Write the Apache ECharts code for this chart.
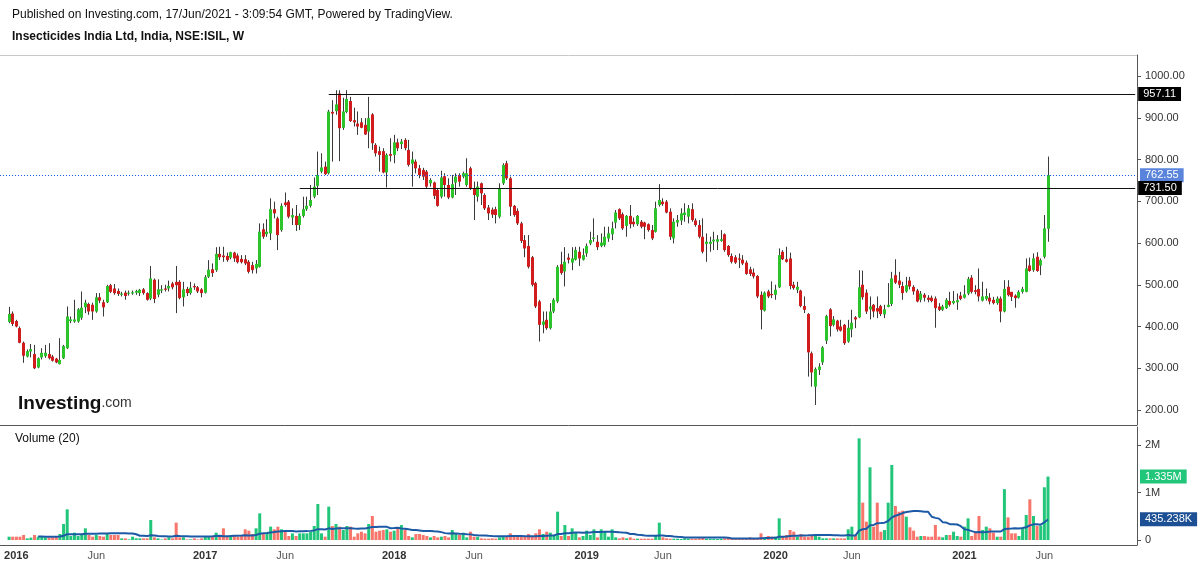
<!DOCTYPE html>
<html><head><meta charset="utf-8">
<script src="https://cdn.jsdelivr.net/npm/echarts@6/dist/echarts.min.js"></script>
<style>html,body{margin:0;padding:0;background:#fff}#c{width:1200px;height:569px}</style>
</head><body><div id="c"></div>
<script>
// Weekly bars, first bar = week of 2015-12-21, last bar = week of 2021-06-14
const firstWeek = '2015-12-21';
const leadWeeks = 2;     // empty weeks before first bar
const futureWeeks = 24;  // empty weeks after last bar

const open = [
411,431,413,396,361,328,340,334,302,326,329,334,328,323,310,324,348,413,412,412,
421,446,454,452,436,470,458,458,499,491,485,476,481,479,479,481,480,489,480,467,
512,476,486,491,491,503,507,507,470,490,480,497,494,489,481,519,537,535,574,570,
569,565,577,570,562,561,555,547,539,543,633,621,623,681,659,631,697,699,661,665,
643,665,681,689,711,737,771,783,767,914,916,958,876,914,940,894,886,889,883,867,
908,835,820,820,769,813,811,841,837,847,823,790,795,779,775,771,743,745,727,711,
760,739,709,745,763,759,739,779,731,711,743,715,685,680,681,663,743,791,755,689,
677,647,607,593,566,504,460,404,416,396,436,460,549,532,565,553,560,579,560,575,
599,610,603,593,595,611,621,649,681,669,641,665,651,645,651,649,645,631,627,691,
699,699,675,611,649,654,667,663,681,654,643,615,598,598,604,603,605,621,593,569,
566,563,560,553,537,529,521,476,438,484,478,476,494,579,561,563,500,488,486,449,
430,336,256,296,314,366,441,404,414,400,404,364,393,422,422,500,481,441,452,444,
449,429,447,454,523,510,497,484,510,495,486,464,476,469,469,467,448,440,444,461,
456,458,474,469,479,517,487,490,462,466,469,464,456,467,436,495,483,474,469,483,
483,546,535,567,546,567,634];
const close = [
430,406,400,361,330,341,346,300,324,337,337,324,318,314,320,353,424,417,417,441,
445,457,436,436,470,462,446,497,483,480,478,479,473,481,482,485,488,480,464,515,
466,489,489,488,497,494,499,468,489,480,493,494,484,480,518,536,528,574,566,566,
559,578,563,554,554,551,531,535,550,627,615,627,681,671,619,689,691,663,667,643,
665,681,689,703,735,763,781,765,915,910,932,875,915,945,892,889,879,876,860,899,
839,815,811,769,811,809,841,827,843,827,787,800,779,763,759,735,751,713,689,757,
739,709,741,759,747,767,767,731,715,735,719,683,671,668,667,731,787,755,687,667,
647,605,587,543,500,448,404,412,396,436,464,543,528,555,560,563,583,563,571,593,
607,613,590,601,615,623,635,673,659,635,665,645,645,665,639,639,631,611,683,703,
693,673,615,651,655,671,673,683,655,643,615,579,603,603,608,609,609,583,571,555,
553,560,551,526,526,520,472,440,481,472,475,488,571,561,555,497,492,495,449,440,
338,290,298,304,350,425,401,417,393,390,360,397,409,417,494,470,436,448,436,436,
430,441,452,515,505,500,480,499,496,484,460,479,469,464,461,444,440,448,464,452,
461,463,466,477,514,483,483,472,472,473,460,456,467,436,490,475,471,468,483,490,
539,533,563,533,559,635,762.55];
const low = [
408,401,398,360,313,326,326,298,300,321,325,321,316,312,309,322,346,408,409,409,
416,432,428,416,433,456,424,456,480,476,473,472,464,474,476,476,473,476,462,463,
456,470,480,484,484,489,432,465,448,473,476,488,480,470,479,516,519,531,559,555,
555,561,555,551,551,547,527,527,527,541,610,615,607,659,583,627,687,659,643,629,
631,661,677,685,707,715,767,763,764,795,907,796,871,911,890,879,859,875,859,827,
823,807,771,767,733,795,791,820,825,822,783,735,767,755,751,731,735,705,687,707,
711,705,707,715,735,755,735,727,655,699,691,679,655,660,647,659,739,751,665,663,
643,600,566,539,496,444,364,384,392,393,432,456,524,496,551,535,558,545,558,567,
595,603,583,590,591,603,607,635,655,631,615,635,639,641,635,609,627,607,625,687,
689,671,607,599,639,643,651,647,651,639,611,575,555,579,583,583,603,579,567,551,
550,540,547,524,521,515,468,393,436,468,468,464,492,559,553,489,488,480,446,432,
280,256,212,284,308,358,376,400,388,388,356,361,374,396,420,464,430,417,422,420,
425,420,446,449,502,492,464,481,489,476,458,458,460,458,458,397,437,437,442,448,
453,440,463,467,475,479,477,460,460,462,453,453,452,410,434,472,461,445,467,479,
482,531,531,531,523,563,603];
const high = [
447,436,416,400,364,345,358,356,326,348,356,360,332,325,372,356,448,424,464,444,
484,464,457,457,480,480,464,500,502,502,491,483,486,486,486,488,490,492,482,545,
515,513,499,500,510,507,545,511,507,495,507,503,497,492,523,559,551,590,591,591,
577,579,579,575,571,571,559,555,559,647,647,657,707,699,663,695,721,703,683,691,
671,711,711,739,757,819,815,795,919,942,966,966,948,966,950,924,915,899,899,950,
911,839,831,827,815,851,859,850,849,851,847,819,800,787,780,775,755,747,731,773,
767,755,763,767,767,771,803,783,747,747,745,719,691,685,687,743,791,797,759,691,
683,651,619,619,569,507,464,436,436,456,468,547,579,590,575,590,591,591,587,599,
627,659,619,623,639,639,651,679,683,673,667,691,661,667,655,651,647,643,699,741,
707,703,683,659,667,683,695,691,695,659,655,659,623,615,627,619,631,623,595,575,
571,575,571,558,543,539,523,484,484,488,508,500,587,583,591,577,507,507,488,472,
432,340,302,312,353,428,444,425,416,416,406,416,440,425,535,534,489,472,454,472,
452,452,504,531,561,531,507,519,519,499,490,485,480,475,474,472,456,452,468,483,
485,479,483,499,519,523,499,539,507,491,480,471,472,472,511,511,483,477,487,495,
563,565,575,578,563,667,807];
// weekly volume, thousands of shares
const volumeK = [
70,70,70,70,105,35,50,105,70,70,56,56,56,84,
126,337,646,84,154,84,126,246,105,70,105,84,70,140,105,105,105,
35,35,14,70,35,35,35,35,421,56,35,10,35,56,35,365,56,56,14,14,
35,14,35,84,84,84,154,105,246,84,105,105,70,105,225,196,126,246,561,140,154,281,225,280,
225,175,84,140,84,140,140,140,175,295,758,140,70,702,295,337,281,210,295,281,70,140,175,140,337,
505,175,196,210,225,175,196,246,316,225,84,56,126,126,105,84,56,84,56,70,84,56,210,140,105,154,56,175,70,70,35,
28,28,35,28,56,84,70,140,84,84,84,84,126,84,140,225,126,175,154,
84,597,84,316,84,246,154,56,84,196,105,225,56,225,175,70,225,56,35,56,35,56,28,28,28,28,28,28,
84,365,56,35,28,28,28,21,35,28,28,28,35,56,28,28,28,21,28,35,56,28,28,21,28,35,56,35,35,
140,56,84,70,70,456,70,105,210,175,70,126,70,70,84,84,70,35,35,35,35,35,35,35,225,281,105,
2140,786,386,1530,281,786,175,210,786,1580,716,596,617,491,267,196,
70,84,84,70,70,316,70,56,105,105,175,84,70,
281,456,84,175,505,210,281,246,154,70,70,1070,477,140,140,84,250,526,856,505,300,300,1110,1335];

const levelHigh = 957.11, levelHighFromWeek = 88;
const levelMid = 731.50, levelMidFromWeek = 80;
const lastPrice = 762.55;
const lastVolumeLabel = '1.335M';
const volMaValue = 435238, volMaLabel = '435.238K';
const maLength = 20, maFirstBar = 8;

// categories (weekly dates)
const cats = [];
const t0 = Date.UTC(2015, 11, 21) - leadWeeks * 7 * 86400000;
for (let i = 0; i < leadWeeks + open.length + futureWeeks; i++) {
  cats.push(new Date(t0 + i * 7 * 86400000).toISOString().slice(0, 10));
}
function labelFor(s) {
  const y = +s.slice(0, 4), m = +s.slice(5, 7), d = +s.slice(8, 10);
  if (d <= 7 && m === 1) return '{b|' + y + '}';
  if (d <= 7 && m === 6) return 'Jun';
  return '';
}
const isLabel = (idx, val) => labelFor(val) !== '';

const UP = '#2bc42b', DOWN = '#d01c1c';
const VUP = '#22c67a', VDOWN = '#f8756c';

const candleData = open.map((o, i) => [i + leadWeeks, o, close[i], low[i], high[i]]);
const volData = [];
for (let i = 0; i < leadWeeks; i++) volData.push('-');
volumeK.forEach((v, i) => volData.push({ value: v * 1000, itemStyle: { color: close[i] >= open[i] ? VUP : VDOWN } }));
const maData = [];
for (let i = 0; i < leadWeeks; i++) maData.push('-');
volumeK.forEach((v, i) => {
  if (i < maFirstBar) { maData.push('-'); return; }
  const s = Math.max(0, i - maLength + 1);
  let sum = 0; for (let k = s; k <= i; k++) sum += volumeK[k];
  maData.push(sum / (i - s + 1) * 1000);
});
const lastCat = cats[cats.length - 1];

const chart = echarts.init(document.getElementById('c'), null, { renderer: 'canvas' });
const FONT = '"Liberation Sans", Arial, sans-serif';
const tagLabel = (txt, bg) => ({ show: true, position: 'end', distance: 3, formatter: txt, color: '#fff',
  backgroundColor: bg, padding: [2, 5, 1, 5], fontSize: 11, fontFamily: FONT });

chart.setOption({
  animation: false,
  backgroundColor: '#fff',
  textStyle: { fontFamily: FONT },
  grid: [
    { left: 0, right: 63, top: 55, height: 370 },
    { left: 0, right: 63, top: 427, height: 118 }
  ],
  xAxis: [
    { type: 'category', gridIndex: 0, data: cats, boundaryGap: true, show: false },
    { type: 'category', gridIndex: 1, data: cats, boundaryGap: true,
      axisLine: { onZero: false, lineStyle: { color: '#555' } },
      axisTick: { interval: isLabel, alignWithLabel: true, length: 4, lineStyle: { color: '#555' } },
      axisLabel: { interval: isLabel, formatter: labelFor, color: '#555', fontSize: 11, margin: 5,
        rich: { b: { fontWeight: 'bold', color: '#333', fontSize: 11 } } },
      splitLine: { show: false } }
  ],
  yAxis: [
    { type: 'value', gridIndex: 0, position: 'right', min: 164.1, max: 1050.3, splitNumber: 9, scale: true,
      axisLine: { show: true, lineStyle: { color: '#555' } },
      axisTick: { show: true, length: 4, lineStyle: { color: '#555' } },
      axisLabel: { formatter: v => v.toFixed(2), color: '#333', fontSize: 11, margin: 8, showMinLabel: false, showMaxLabel: false },
      splitLine: { show: false } },
    { type: 'value', gridIndex: 1, position: 'right', min: -105263, max: 2378947, splitNumber: 2,
      axisLine: { show: true, lineStyle: { color: '#555' } },
      axisTick: { show: true, length: 4, lineStyle: { color: '#555' } },
      axisLabel: { formatter: v => v === 0 ? '0' : (v / 1e6) + 'M', color: '#333', fontSize: 11, margin: 8, showMinLabel: false, showMaxLabel: false },
      splitLine: { show: false } }
  ],
  series: [
    { type: 'custom', xAxisIndex: 0, yAxisIndex: 0, data: candleData, encode: { x: 0, y: [1, 2, 3, 4] },
      renderItem: function (params, api) {
        const x = api.value(0), o = api.value(1), c = api.value(2), l = api.value(3), h = api.value(4);
        const pO = api.coord([x, o]), pC = api.coord([x, c]), pL = api.coord([x, l]), pH = api.coord([x, h]);
        const bx = Math.round(pO[0] - 1.5);
        const top = Math.min(pO[1], pC[1]), bot = Math.max(pO[1], pC[1]);
        return { type: 'group', children: [
          { type: 'line', shape: { x1: bx + 1.5, y1: pH[1], x2: bx + 1.5, y2: pL[1] }, style: { stroke: '#3a3a3a', lineWidth: 1 } },
          { type: 'rect', shape: { x: bx, y: top, width: 3, height: Math.max(bot - top, 1) }, style: { fill: c >= o ? UP : DOWN } }
        ] };
      } },
    { type: 'line', xAxisIndex: 0, yAxisIndex: 0, data: close.map((c, i) => [i + leadWeeks, c]), symbol: 'none',
      lineStyle: { opacity: 0 }, silent: true, z: 5,
      markLine: { silent: true, symbol: 'none', precision: 2, data: [
        { yAxis: lastPrice, lineStyle: { color: '#1f5ef0', type: [1, 2], width: 1.2 }, label: tagLabel('762.55', '#5a84dc') },
        [ { coord: [cats[levelHighFromWeek + leadWeeks], levelHigh], lineStyle: { color: '#111', type: 'solid', width: 1 }, label: tagLabel('957.11', '#000') },
          { coord: [lastCat, levelHigh] } ],
        [ { coord: [cats[levelMidFromWeek + leadWeeks], levelMid], lineStyle: { color: '#111', type: 'solid', width: 1 }, label: tagLabel('731.50', '#000') },
          { coord: [lastCat, levelMid] } ]
      ] } },
    { type: 'bar', xAxisIndex: 1, yAxisIndex: 1, data: volData, barWidth: 3, z: 2,
      markLine: { silent: true, symbol: 'none', data: [
        { yAxis: 1335000, lineStyle: { color: 'rgba(0,0,0,0)' }, label: tagLabel(lastVolumeLabel, '#22c67a') },
        { yAxis: volMaValue, lineStyle: { color: 'rgba(0,0,0,0)' }, label: tagLabel(volMaLabel, '#1c4f93') }
      ] } },
    { type: 'line', xAxisIndex: 1, yAxisIndex: 1, data: maData, symbol: 'none', z: 3,
      lineStyle: { color: '#1d5aa6', width: 2 } }
  ],
  graphic: [
    { type: 'line', shape: { x1: 0, y1: 55.5, x2: 1137, y2: 55.5 }, style: { stroke: '#c8c8c8', lineWidth: 1 }, silent: true },
    { type: 'line', shape: { x1: 0, y1: 425.5, x2: 1137, y2: 425.5 }, style: { stroke: '#555', lineWidth: 1 }, silent: true },
    { type: 'text', left: 12, top: 9, style: { text: 'Published on Investing.com, 17/Jun/2021 - 3:09:54 GMT, Powered by TradingView.', font: '12px ' + FONT, fill: '#111' } },
    { type: 'text', left: 12, top: 31, style: { text: 'Insecticides India Ltd, India, NSE:ISIL, W', font: 'bold 12px ' + FONT, fill: '#111' } },
    { type: 'text', left: 15, top: 433, style: { text: 'Volume (20)', font: '12px ' + FONT, fill: '#111' } },
    { type: 'text', left: 18, top: 394, style: { rich: { a: { font: 'bold 19px ' + FONT, fill: '#111' }, b: { font: '14px ' + FONT, fill: '#333' } }, text: '{a|Investing}{b|.com}' } }
  ]
});
</script></body></html>
